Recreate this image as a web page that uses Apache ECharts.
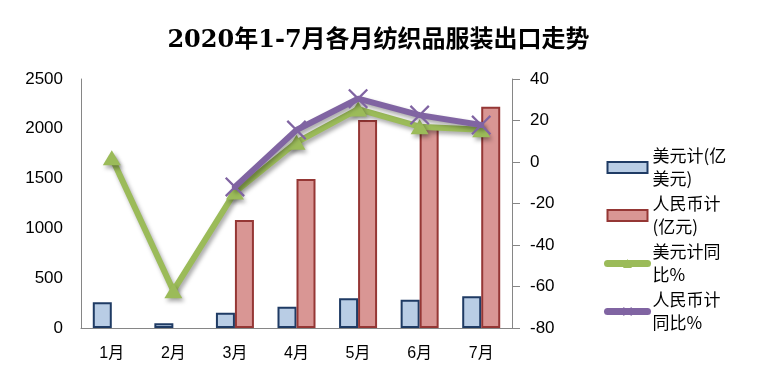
<!DOCTYPE html>
<html><head><meta charset="utf-8">
<script src="https://cdn.jsdelivr.net/npm/echarts@6/dist/echarts.min.js"></script>
<style>html,body{margin:0;padding:0;background:#fff}#c{width:757px;height:382px}</style>
</head><body><div id="c"></div>
<script>
var categories = ['1月','2月','3月','4月','5月','6月','7月'];
var usdValues = [258, 47, 154, 214, 298, 284, 318];
var cnyValues = [null, null, 1084, 1496, 2088, 2010, 2222];
var usdYoY = [2, -62, -14.5, 9.5, 25.5, 17, 15.5];
var cnyYoY = [null, null, -12, 15.4, 30.5, 22.6, 17.8];
var leftTicks = {min: 0, max: 2500, interval: 500};
var rightTicks = {min: -80, max: 40, interval: 20};
var seriesNames = ['美元计(亿美元)', '人民币计(亿元)', '美元计同比%', '人民币计同比%'];
var legendLabels = ['美元计(亿\n美元)', '人民币计\n(亿元)', '美元计同\n比%', '人民币计\n同比%'];

var chart = echarts.init(document.getElementById('c'), null, {renderer: 'canvas'});
var axisFont = 'Liberation Sans, Noto Sans CJK SC, sans-serif';
var xPath = 'path://M0,1.6L1.6,0L10,8.4L18.4,0L20,1.6L11.6,10L20,18.4L18.4,20L10,11.6L1.6,20L0,18.4L8.4,10Z';
var shadow = {shadowColor: 'rgba(0,0,0,0.35)', shadowBlur: 4, shadowOffsetX: 2, shadowOffsetY: 3};
chart.setOption({
  animation: false,
  backgroundColor: '#fff',
  title: {
    text: '2020年1-7月各月纺织品服装出口走势',
    left: 'center', top: 24,
    textStyle: {fontSize: 24, fontWeight: 'bold', color: '#000', fontFamily: 'DejaVu Serif, Noto Sans CJK SC, serif'}
  },
  legend: {
    orient: 'vertical', left: 604, top: 133, padding: 0,
    itemWidth: 40, itemHeight: 11, itemGap: -21,
    data: [
      {name: seriesNames[0], icon: 'rect'},
      {name: seriesNames[1], icon: 'rect'},
      {name: seriesNames[2]},
      {name: seriesNames[3]}
    ],
    formatter: function (n) { return legendLabels[seriesNames.indexOf(n)]; },
    textStyle: {fontSize: 17, lineHeight: 23, color: '#000', padding: [23, 0, 0, 0], fontFamily: 'Noto Sans CJK SC, sans-serif'},
    lineStyle: {width: 7, cap: 'round'}
  },
  grid: {left: 81, right: 245, top: 79, bottom: 54},
  xAxis: {
    type: 'category', data: categories,
    axisLine: {lineStyle: {color: '#868686', width: 1}},
    axisTick: {show: false},
    axisLabel: {color: '#000', fontSize: 16, margin: 18, fontFamily: axisFont}
  },
  yAxis: [{
    type: 'value', min: leftTicks.min, max: leftTicks.max, interval: leftTicks.interval,
    axisLine: {show: true, lineStyle: {color: '#868686'}},
    axisTick: {show: false},
    splitLine: {show: false},
    axisLabel: {color: '#000', fontSize: 17, margin: 18, fontFamily: axisFont, formatter: function (v) { return String(v); }}
  }, {
    type: 'value', min: rightTicks.min, max: rightTicks.max, interval: rightTicks.interval,
    position: 'right',
    axisLine: {show: true, lineStyle: {color: '#868686'}},
    axisTick: {show: true, length: 8, lineStyle: {color: '#868686'}},
    splitLine: {show: false},
    axisLabel: {color: '#000', fontSize: 17, margin: 18, fontFamily: axisFont, formatter: function (v) { return String(v); }}
  }],
  series: [{
    name: seriesNames[0], type: 'bar', data: usdValues, barWidth: 19, barGap: '0%',
    itemStyle: {color: '#B9CDE5', borderColor: '#1F3B64', borderWidth: 2}
  }, {
    name: seriesNames[1], type: 'bar', data: cnyValues, barWidth: 19, barGap: '0%',
    itemStyle: {color: '#D99694', borderColor: '#953735', borderWidth: 2}
  }, {
    name: seriesNames[2], type: 'line', yAxisIndex: 1, data: usdYoY,
    symbol: 'triangle', symbolSize: [18, 15], z: 5,
    lineStyle: Object.assign({color: '#9BBB59', width: 6, cap: 'round'}, shadow),
    itemStyle: Object.assign({color: '#9BBB59'}, shadow)
  }, {
    name: seriesNames[3], type: 'line', yAxisIndex: 1, data: cnyYoY,
    symbol: xPath, symbolSize: 20, z: 6,
    lineStyle: Object.assign({color: '#8064A2', width: 6, cap: 'round'}, shadow),
    itemStyle: {color: '#8064A2'}
  }]
});
</script></body></html>
